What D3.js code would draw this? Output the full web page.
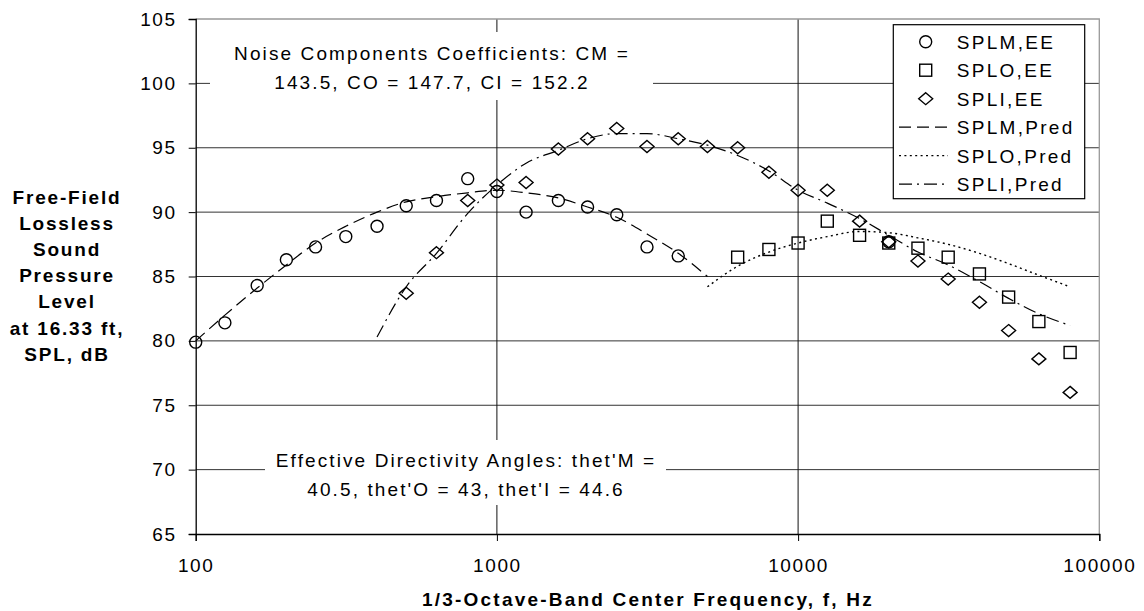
<!DOCTYPE html>
<html>
<head>
<meta charset="utf-8">
<script src="https://cdn.jsdelivr.net/npm/d3@7"></script>
<style>
body { margin: 0; background: #fff; }
svg text { font-family: "Liberation Sans", Arial, sans-serif; fill: #000; }
</style>
</head>
<body>
<svg id="chart" width="1144" height="611"></svg>
<script>
// tick labels
const xTicks = [100, 1000, 10000, 100000];
const yTicks = [65, 70, 75, 80, 85, 90, 95, 100, 105];

// measured points (EE)
const splmFreq = [100, 125, 160, 200, 250, 315, 400, 500, 630, 800, 1000, 1250, 1600, 2000, 2500, 3150, 4000, 20000];
const splmEE = [79.9, 81.4, 84.3, 86.3, 87.3, 88.1, 88.9, 90.5, 90.9, 92.6, 91.6, 90.0, 90.9, 90.4, 89.8, 87.3, 86.6, 87.7];
const sploFreq = [6300, 8000, 10000, 12500, 16000, 20000, 25000, 31500, 40000, 50000, 63000, 80000];
const sploEE = [86.5, 87.1, 87.6, 89.3, 88.2, 87.6, 87.2, 86.5, 85.2, 83.4, 81.5, 79.1];
const spliFreq = [500, 630, 800, 1000, 1250, 1600, 2000, 2500, 3150, 4000, 5000, 6300, 8000, 10000, 12500, 16000, 20000, 25000, 31500, 40000, 50000, 63000, 80000];
const spliEE = [83.7, 86.85, 90.9, 92.1, 92.3, 94.9, 95.7, 96.5, 95.1, 95.7, 95.1, 95.0, 93.1, 91.7, 91.7, 89.3, 87.7, 86.2, 84.8, 83.0, 80.8, 78.6, 76.0];

// predicted curves
const splmPredFreq = [100, 125, 160, 200, 250, 315, 400, 500, 630, 800, 1000, 1250, 1600, 2000, 2500, 3150, 4000, 5000];
const splmPred = [80.0, 82.0, 84.1, 85.9, 87.6, 88.9, 90.0, 90.8, 91.2, 91.5, 91.7, 91.5, 91.1, 90.4, 89.6, 88.3, 86.8, 85.0];
const sploPredFreq = [5000, 6300, 8000, 10000, 12500, 16000, 20000, 25000, 31500, 40000, 50000, 63000, 80000];
const sploPred = [84.2, 85.8, 86.9, 87.6, 88.1, 88.5, 88.4, 88.0, 87.5, 86.8, 86.0, 85.1, 84.2];
const spliPredFreq = [400, 500, 630, 800, 1000, 1250, 1600, 2000, 2500, 3150, 4000, 5000, 6300, 8000, 10000, 12500, 16000, 20000, 25000, 31500, 40000, 50000, 63000, 80000];
const spliPred = [80.3, 84.2, 86.8, 89.9, 92.1, 93.8, 94.8, 95.7, 96.1, 96.1, 95.7, 95.2, 94.4, 93.2, 91.7, 90.7, 89.5, 88.2, 86.9, 85.9, 84.6, 83.3, 82.1, 81.2];

const legendLabels = ["SPLM,EE", "SPLO,EE", "SPLI,EE", "SPLM,Pred", "SPLO,Pred", "SPLI,Pred"];
const yTitleLines = ["Free-Field", "Lossless", "Sound", "Pressure", "Level", "at 16.33 ft,", "SPL, dB"];
const note1 = ["Noise Components Coefficients: CM =", "143.5, CO = 147.7, CI = 152.2"];
const note2 = ["Effective Directivity Angles: thet'M =", "40.5, thet'O = 43, thet'I = 44.6"];

const svg = d3.select("#chart");
const L = 195.7, R = 1099.3, T = 19, B = 534;

const x = d3.scaleLog().domain([100, 100000]).range([L, R]);
const y = d3.scaleLinear().domain([65, 105]).range([B, T]);

const dashM = "12,6", dotO = "2,3.4", dashI = "13,5,2,5";

// gridlines
const grid = svg.append("g");
grid.selectAll(".hg")
    .data(yTicks.filter(d => d > 65 && d < 105))
    .enter().append("line")
    .attr("x1", L).attr("x2", R)
    .attr("y1", d => y(d)).attr("y2", d => y(d))
    .attr("stroke", "#333").attr("stroke-width", 1);
grid.selectAll(".vg")
    .data(xTicks.filter(d => d > 100 && d < 100000))
    .enter().append("line")
    .attr("x1", d => x(d)).attr("x2", d => x(d))
    .attr("y1", T).attr("y2", B)
    .attr("stroke", "#111").attr("stroke-width", 1);

// plot frame (top / right grey)
svg.append("path")
    .attr("d", `M${L},${T}H${R}V${B}`)
    .attr("fill", "none").attr("stroke", "#999").attr("stroke-width", 1.3);

// Y axis
const yAxis = svg.append("g")
    .attr("transform", `translate(${L},0)`)
    .call(d3.axisLeft(y).tickValues(yTicks).tickSize(7).tickPadding(12));
yAxis.select(".domain").attr("stroke", "#000").attr("stroke-width", 1.3);
yAxis.selectAll(".tick line").attr("stroke", "#000");
yAxis.selectAll("text")
    .attr("font-size", 19).attr("letter-spacing", 1.6)
    .style("font-family", "Liberation Sans, Arial, sans-serif");

// X axis
const xAxis = svg.append("g")
    .attr("transform", `translate(0,${B})`)
    .call(d3.axisBottom(x).tickValues(xTicks).tickSize(7).tickPadding(18).tickFormat(d3.format("d")));
xAxis.select(".domain").attr("stroke", "#000").attr("stroke-width", 1.3);
xAxis.selectAll(".tick line").attr("stroke", "#000");
xAxis.selectAll("text")
    .attr("font-size", 19).attr("letter-spacing", 1.6)
    .style("font-family", "Liberation Sans, Arial, sans-serif");

// annotation boxes (white, hide grid)
function note(lines, cx, y0, box) {
    svg.append("rect")
        .attr("x", box[0]).attr("y", box[1])
        .attr("width", box[2] - box[0]).attr("height", box[3] - box[1])
        .attr("fill", "#fff");
    lines.forEach((t, i) => {
        svg.append("text")
            .attr("x", cx).attr("y", y0 + i * 28.5)
            .attr("text-anchor", "middle")
            .attr("font-size", 19).attr("letter-spacing", 2.1)
            .text(t);
    });
}
note(note1, 432, 60, [210, 32, 653, 100]);
note(note2, 466, 467, [265, 440, 666, 505]);

// predicted lines
const line = d3.line().x(d => x(d[0])).y(d => y(d[1])).curve(d3.curveMonotoneX);
const zip = (f, v) => f.map((d, i) => [d, v[i]]);

svg.append("path").datum(zip(splmPredFreq, splmPred))
    .attr("d", line).attr("fill", "none").attr("stroke", "#000")
    .attr("stroke-width", 1.2).attr("stroke-dasharray", dashM);
svg.append("path").datum(zip(sploPredFreq, sploPred))
    .attr("d", line).attr("fill", "none").attr("stroke", "#000")
    .attr("stroke-width", 1.4).attr("stroke-dasharray", dotO);
svg.append("path").datum(zip(spliPredFreq, spliPred))
    .attr("d", line).attr("fill", "none").attr("stroke", "#000")
    .attr("stroke-width", 1.2).attr("stroke-dasharray", dashI);

// marker shapes
function drawMarker(g, kind, cx, cy) {
    if (kind === "circle") {
        g.append("circle").attr("cx", cx).attr("cy", cy).attr("r", 6);
    } else if (kind === "square") {
        g.append("rect").attr("x", cx - 6).attr("y", cy - 6).attr("width", 12).attr("height", 12);
    } else {
        g.append("path").attr("d", `M${cx},${cy - 6}L${cx + 7},${cy}L${cx},${cy + 6}L${cx - 7},${cy}Z`);
    }
}

const marks = svg.append("g").attr("fill", "none").attr("stroke", "#000").attr("stroke-width", 1.4);
zip(splmFreq, splmEE).forEach(d => drawMarker(marks, "circle", x(d[0]), y(d[1])));
zip(sploFreq, sploEE).forEach(d => drawMarker(marks, "square", x(d[0]), y(d[1])));
zip(spliFreq, spliEE).forEach(d => drawMarker(marks, "diamond", x(d[0]), y(d[1])));

// legend
const lg = svg.append("g");
lg.append("rect")
    .attr("x", 893.3).attr("y", 24.7).attr("width", 191.4).attr("height", 174)
    .attr("fill", "#fff").attr("stroke", "#000").attr("stroke-width", 1.2);
const rowY = i => 41.7 + i * 28.5;
const lm = lg.append("g").attr("fill", "none").attr("stroke", "#000").attr("stroke-width", 1.4);
drawMarker(lm, "circle", 925.7, rowY(0));
drawMarker(lm, "square", 925.7, rowY(1));
drawMarker(lm, "diamond", 925.7, rowY(2));
[dashM, dotO, dashI].forEach((da, i) => {
    lg.append("line")
        .attr("x1", 899).attr("x2", 948)
        .attr("y1", rowY(3 + i)).attr("y2", rowY(3 + i))
        .attr("stroke", "#000").attr("stroke-width", 1.3)
        .attr("stroke-dasharray", da);
});
legendLabels.forEach((t, i) => {
    lg.append("text")
        .attr("x", 956.7).attr("y", rowY(i) + 7)
        .attr("font-size", 19).attr("letter-spacing", 2.3)
        .text(t);
});

// axis titles
yTitleLines.forEach((t, i) => {
    svg.append("text")
        .attr("x", 67).attr("y", 203.5 + i * 26.2)
        .attr("text-anchor", "middle")
        .attr("font-size", 19).attr("font-weight", "bold").attr("letter-spacing", 1.8)
        .text(t);
});
svg.append("text")
    .attr("x", 648).attr("y", 606)
    .attr("text-anchor", "middle")
    .attr("font-size", 19).attr("font-weight", "bold").attr("letter-spacing", 2.2)
    .text("1/3-Octave-Band Center Frequency, f, Hz");
</script>
</body>
</html>
